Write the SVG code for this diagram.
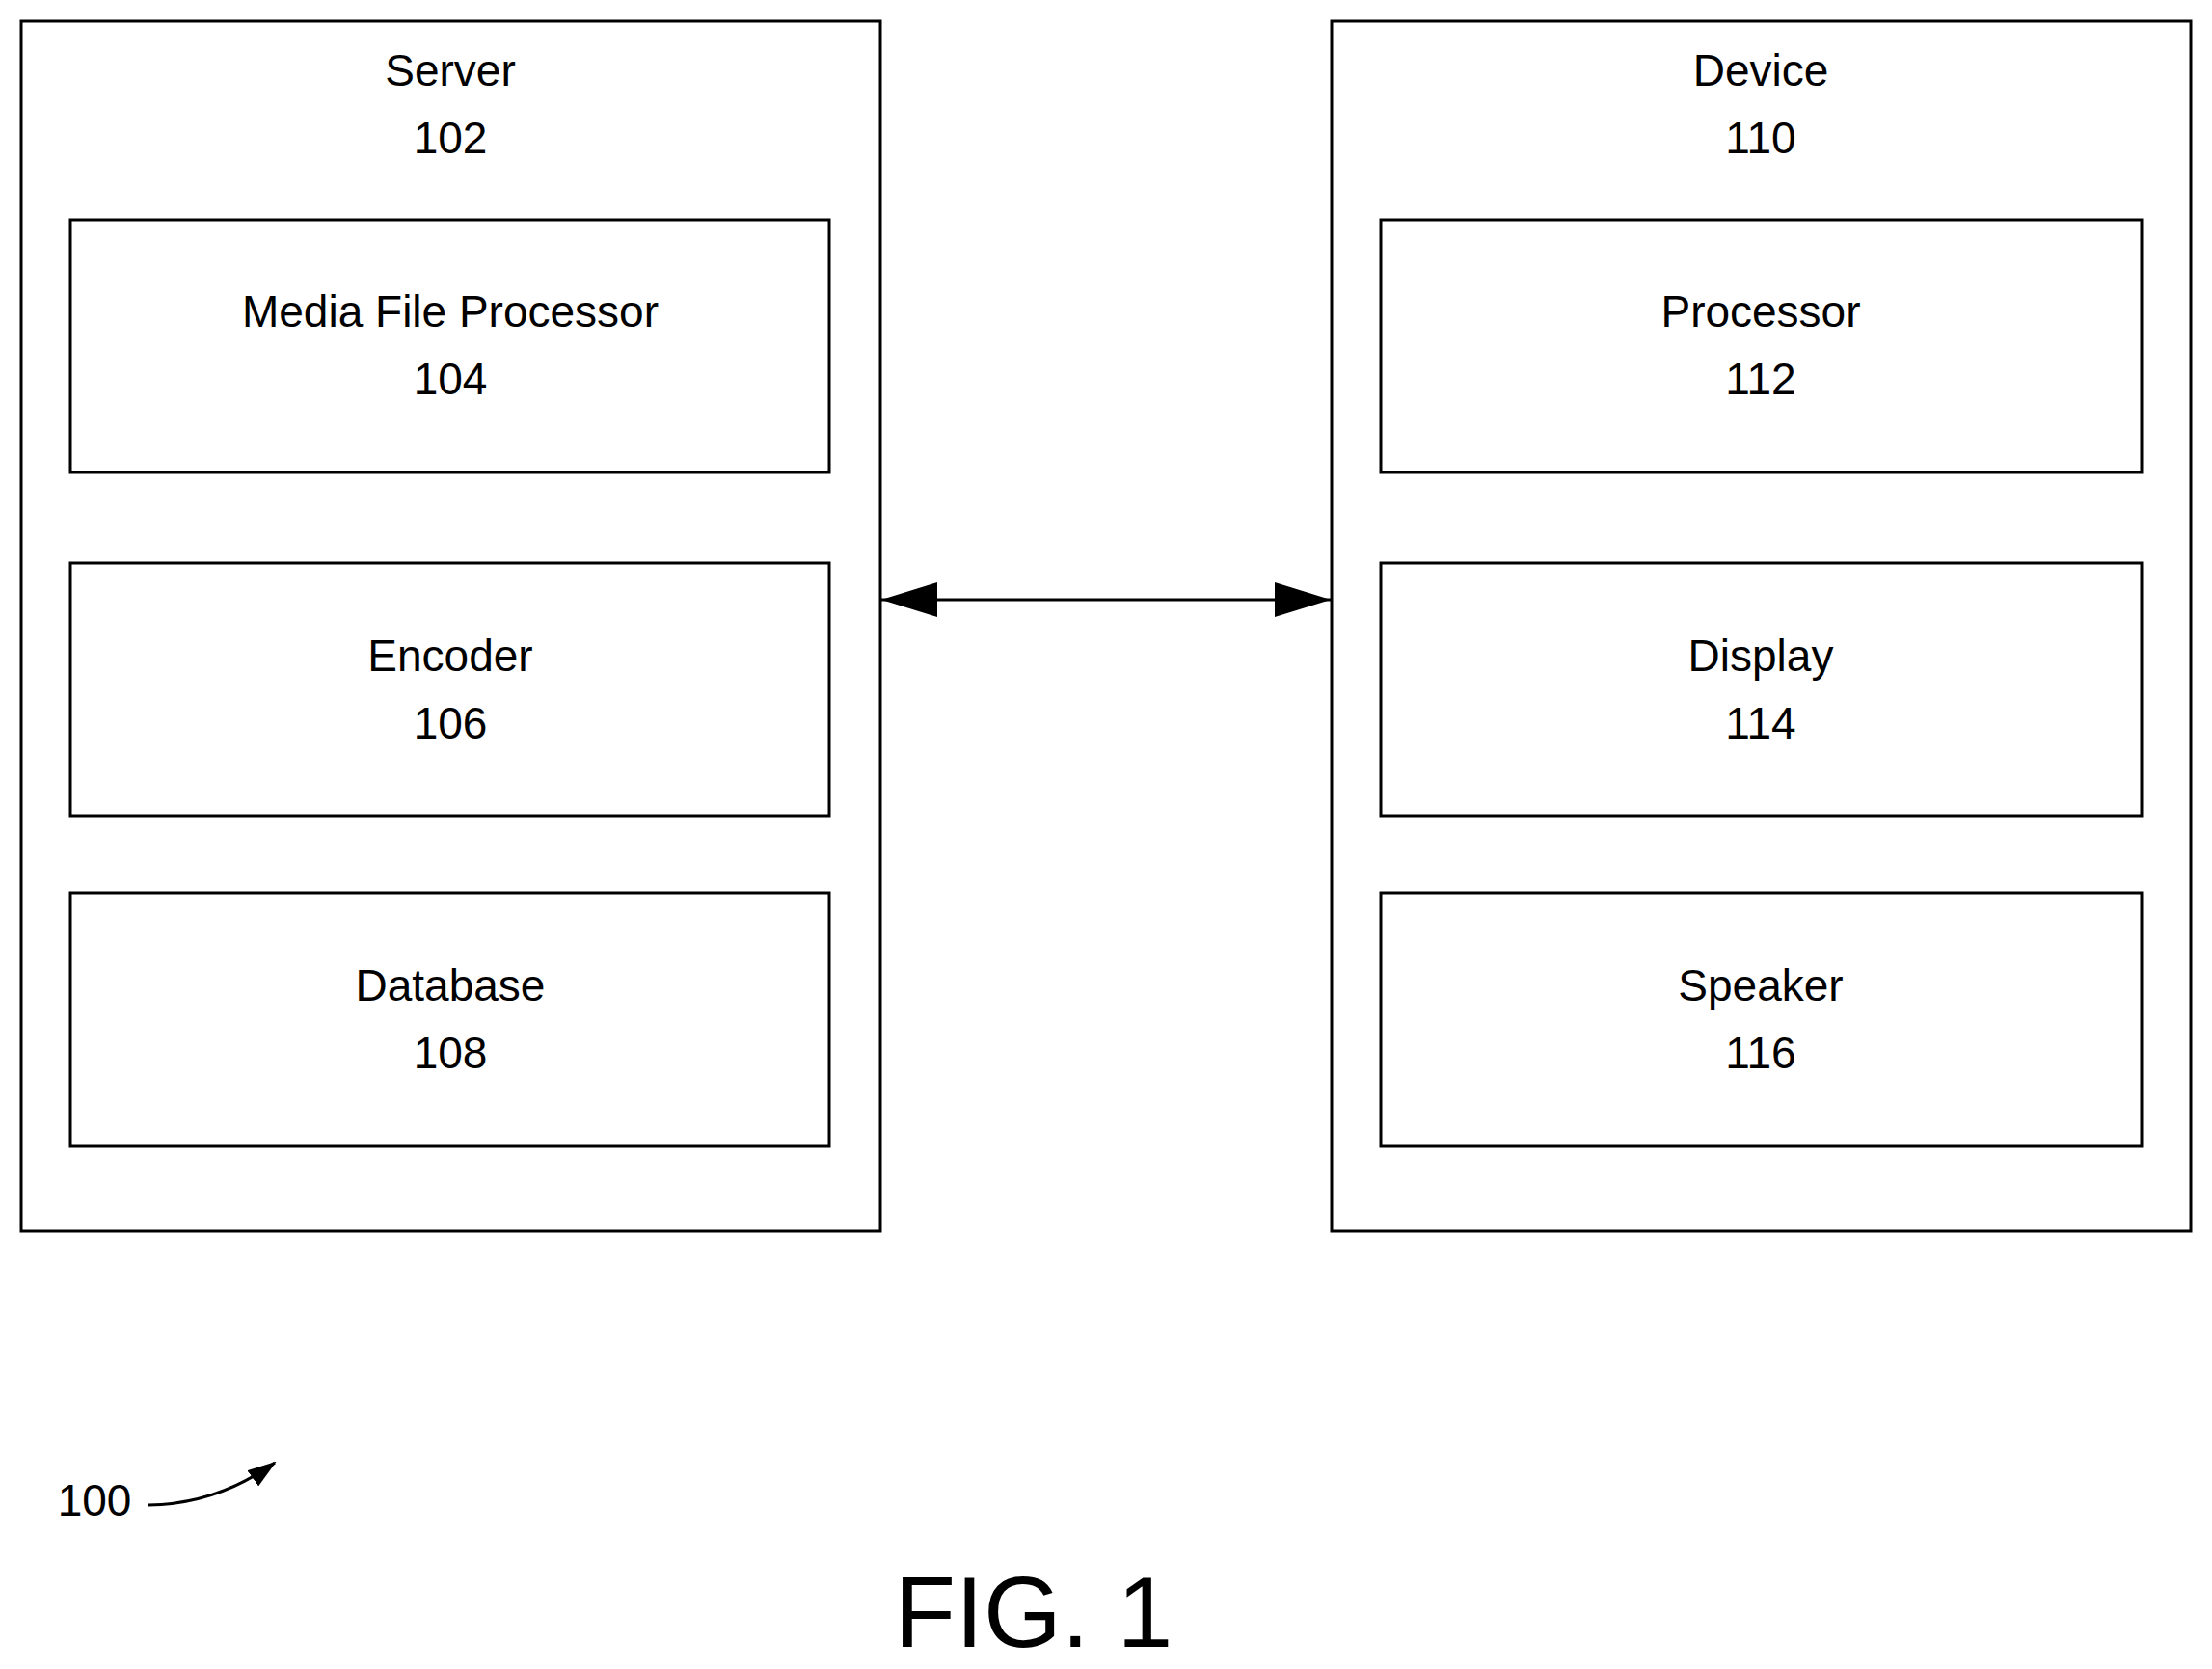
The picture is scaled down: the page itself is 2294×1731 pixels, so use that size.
<svg xmlns="http://www.w3.org/2000/svg" width="2294" height="1731" viewBox="0 0 2294 1731">
<style>
.b{fill:none;stroke:#000;stroke-width:3}
text{font-family:"Liberation Sans",Arial,sans-serif;font-size:46px;text-anchor:middle;fill:#000}
</style>
<defs>
<marker id="ah" viewBox="0 0 58 36" refX="58" refY="18" markerWidth="58" markerHeight="36" markerUnits="userSpaceOnUse" orient="auto-start-reverse"><path d="M0,0L58,18L0,36z"/></marker>
<marker id="ah2" viewBox="0 0 30 20" refX="28" refY="10" markerWidth="30" markerHeight="20" markerUnits="userSpaceOnUse" orient="auto"><path d="M0,0L30,10L0,20z"/></marker>
</defs>
<rect width="2294" height="1731" fill="#fff"/>
<g id="server"><rect class="b" x="22" y="22" width="891" height="1255"/><text x="467" y="89">Server</text><text x="467" y="159">102</text></g>
<g id="n104"><rect class="b" x="73" y="228" width="787" height="262"/><text x="467" y="339">Media File Processor</text><text x="467" y="409">104</text></g>
<g id="n106"><rect class="b" x="73" y="584" width="787" height="262"/><text x="467" y="696">Encoder</text><text x="467" y="766">106</text></g>
<g id="n108"><rect class="b" x="73" y="926" width="787" height="263"/><text x="467" y="1038">Database</text><text x="467" y="1108">108</text></g>
<g id="device"><rect class="b" x="1381" y="22" width="891" height="1255"/><text x="1826" y="89">Device</text><text x="1826" y="159">110</text></g>
<g id="n112"><rect class="b" x="1432" y="228" width="789" height="262"/><text x="1826" y="339">Processor</text><text x="1826" y="409">112</text></g>
<g id="n114"><rect class="b" x="1432" y="584" width="789" height="262"/><text x="1826" y="696">Display</text><text x="1826" y="766">114</text></g>
<g id="n116"><rect class="b" x="1432" y="926" width="789" height="263"/><text x="1826" y="1038">Speaker</text><text x="1826" y="1108">116</text></g>
<g id="connectors">
<path d="M914,622H1380" stroke="#000" stroke-width="3" fill="none" marker-start="url(#ah)" marker-end="url(#ah)"/>
<path d="M154,1561Q225,1560 285,1517" stroke="#000" stroke-width="3" fill="none" marker-end="url(#ah2)"/>
</g>
<text x="98" y="1572">100</text>
<text x="1072" y="1708" style="font-size:104px">FIG. 1</text>
</svg>
